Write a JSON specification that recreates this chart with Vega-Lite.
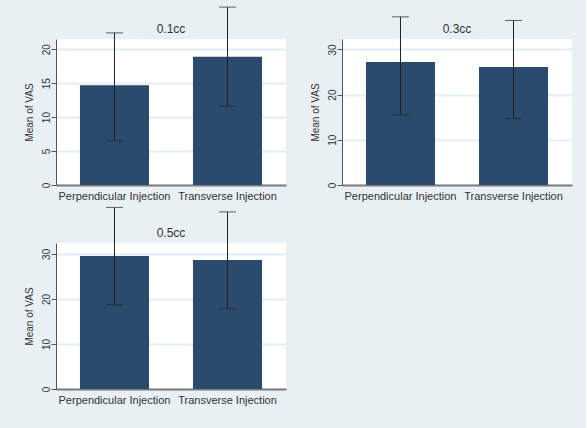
{
  "$schema": "https://vega.github.io/schema/vega-lite/v6.json",
  "background": "#e8f0f3",
  "padding": {"left": 24, "top": 6, "right": 14, "bottom": 24},
  "datasets": {
    "vas": [
      {"dose": "0.1cc", "group": "Perpendicular Injection", "mean": 14.7, "lo": 6.5, "hi": 22.4},
      {"dose": "0.1cc", "group": "Transverse Injection", "mean": 18.9, "lo": 11.6, "hi": 26.2},
      {"dose": "0.3cc", "group": "Perpendicular Injection", "mean": 27.2, "lo": 15.5, "hi": 37.2},
      {"dose": "0.3cc", "group": "Transverse Injection", "mean": 26.1, "lo": 14.7, "hi": 36.4},
      {"dose": "0.5cc", "group": "Perpendicular Injection", "mean": 29.5, "lo": 18.7, "hi": 40.3},
      {"dose": "0.5cc", "group": "Transverse Injection", "mean": 28.6, "lo": 17.8, "hi": 39.3}
    ]
  },
  "data": {"name": "vas"},
  "bounds": "flush",
  "columns": 2,
  "spacing": {"row": 58, "column": 56},
  "config": {
    "font": "Liberation Sans",
    "view": {"stroke": null, "fill": "#ffffff"},
    "title": {"fontSize": 12, "fontWeight": "normal", "color": "#333333"},
    "axis": {
      "labelFont": "Liberation Sans",
      "titleFont": "Liberation Sans",
      "labelColor": "#333333",
      "titleColor": "#333333",
      "titleFontWeight": "normal"
    },
    "axisX": {
      "labelFontSize": 11,
      "labelAngle": 0,
      "labelPadding": 5,
      "ticks": false,
      "domainColor": "#7a7a7a",
      "domainWidth": 2,
      "grid": false
    },
    "axisY": {
      "labelFontSize": 10,
      "labelAngle": -90,
      "labelAlign": "center",
      "labelBaseline": "alphabetic",
      "labelPadding": 2,
      "labelOverlap": false,
      "tickSize": 5,
      "tickColor": "#555555",
      "domainColor": "#555555",
      "domainWidth": 1,
      "titleFontSize": 10,
      "titlePadding": 7,
      "grid": true,
      "gridColor": "#e4edf1",
      "gridWidth": 2
    }
  },
  "concat": [
    {
      "width": 230,
      "height": 146,
      "title": {"text": "0.1cc", "offset": -29},
      "transform": [{"filter": "datum.dose == '0.1cc'"}],
      "encoding": {
        "x": {"field": "group", "type": "nominal", "sort": ["Perpendicular Injection", "Transverse Injection"], "title": null,
              "scale": {"paddingInner": 0.389, "paddingOuter": 0.212}}
      },
      "layer": [
        {"mark": {"type": "bar", "color": "#2a4a6e"},
         "encoding": {"y": {"field": "mean", "type": "quantitative", "title": "Mean of VAS",
                            "scale": {"domain": [0, 21.5], "nice": false},
                            "axis": {"values": [0, 5, 10, 15, 20]}}}},
        {"mark": {"type": "rule", "color": "#222222", "strokeWidth": 1, "clip": false},
         "encoding": {"y": {"field": "lo", "type": "quantitative", "title": "Mean of VAS", "axis": {"values": [0, 5, 10, 15, 20]}}, "y2": {"field": "hi"}}},
        {"mark": {"type": "tick", "color": "#222222", "size": 17, "thickness": 1, "clip": false},
         "encoding": {"y": {"field": "hi", "type": "quantitative", "title": "Mean of VAS", "axis": {"values": [0, 5, 10, 15, 20]}}}},
        {"mark": {"type": "tick", "color": "#222222", "size": 17, "thickness": 1, "clip": false},
         "encoding": {"y": {"field": "lo", "type": "quantitative", "title": "Mean of VAS", "axis": {"values": [0, 5, 10, 15, 20]}}}}
      ]
    },
    {
      "width": 230,
      "height": 146,
      "title": {"text": "0.3cc", "offset": -20},
      "transform": [{"filter": "datum.dose == '0.3cc'"}],
      "encoding": {
        "x": {"field": "group", "type": "nominal", "sort": ["Perpendicular Injection", "Transverse Injection"], "title": null,
              "scale": {"paddingInner": 0.389, "paddingOuter": 0.212}}
      },
      "layer": [
        {"mark": {"type": "bar", "color": "#2a4a6e"},
         "encoding": {"y": {"field": "mean", "type": "quantitative", "title": "Mean of VAS",
                            "scale": {"domain": [0, 32.3], "nice": false},
                            "axis": {"values": [0, 10, 20, 30]}}}},
        {"mark": {"type": "rule", "color": "#222222", "strokeWidth": 1, "clip": false},
         "encoding": {"y": {"field": "lo", "type": "quantitative", "title": "Mean of VAS", "axis": {"values": [0, 10, 20, 30]}}, "y2": {"field": "hi"}}},
        {"mark": {"type": "tick", "color": "#222222", "size": 17, "thickness": 1, "clip": false},
         "encoding": {"y": {"field": "hi", "type": "quantitative", "title": "Mean of VAS", "axis": {"values": [0, 10, 20, 30]}}}},
        {"mark": {"type": "tick", "color": "#222222", "size": 17, "thickness": 1, "clip": false},
         "encoding": {"y": {"field": "lo", "type": "quantitative", "title": "Mean of VAS", "axis": {"values": [0, 10, 20, 30]}}}}
      ]
    },
    {
      "width": 230,
      "height": 146,
      "title": {"text": "0.5cc", "offset": -33},
      "transform": [{"filter": "datum.dose == '0.5cc'"}],
      "encoding": {
        "x": {"field": "group", "type": "nominal", "sort": ["Perpendicular Injection", "Transverse Injection"], "title": null,
              "scale": {"paddingInner": 0.389, "paddingOuter": 0.212}}
      },
      "layer": [
        {"mark": {"type": "bar", "color": "#2a4a6e"},
         "encoding": {"y": {"field": "mean", "type": "quantitative", "title": "Mean of VAS",
                            "scale": {"domain": [0, 32.4], "nice": false},
                            "axis": {"values": [0, 10, 20, 30]}}}},
        {"mark": {"type": "rule", "color": "#222222", "strokeWidth": 1, "clip": false},
         "encoding": {"y": {"field": "lo", "type": "quantitative", "title": "Mean of VAS", "axis": {"values": [0, 10, 20, 30]}}, "y2": {"field": "hi"}}},
        {"mark": {"type": "tick", "color": "#222222", "size": 17, "thickness": 1, "clip": false},
         "encoding": {"y": {"field": "hi", "type": "quantitative", "title": "Mean of VAS", "axis": {"values": [0, 10, 20, 30]}}}},
        {"mark": {"type": "tick", "color": "#222222", "size": 17, "thickness": 1, "clip": false},
         "encoding": {"y": {"field": "lo", "type": "quantitative", "title": "Mean of VAS", "axis": {"values": [0, 10, 20, 30]}}}}
      ]
    }
  ]
}
